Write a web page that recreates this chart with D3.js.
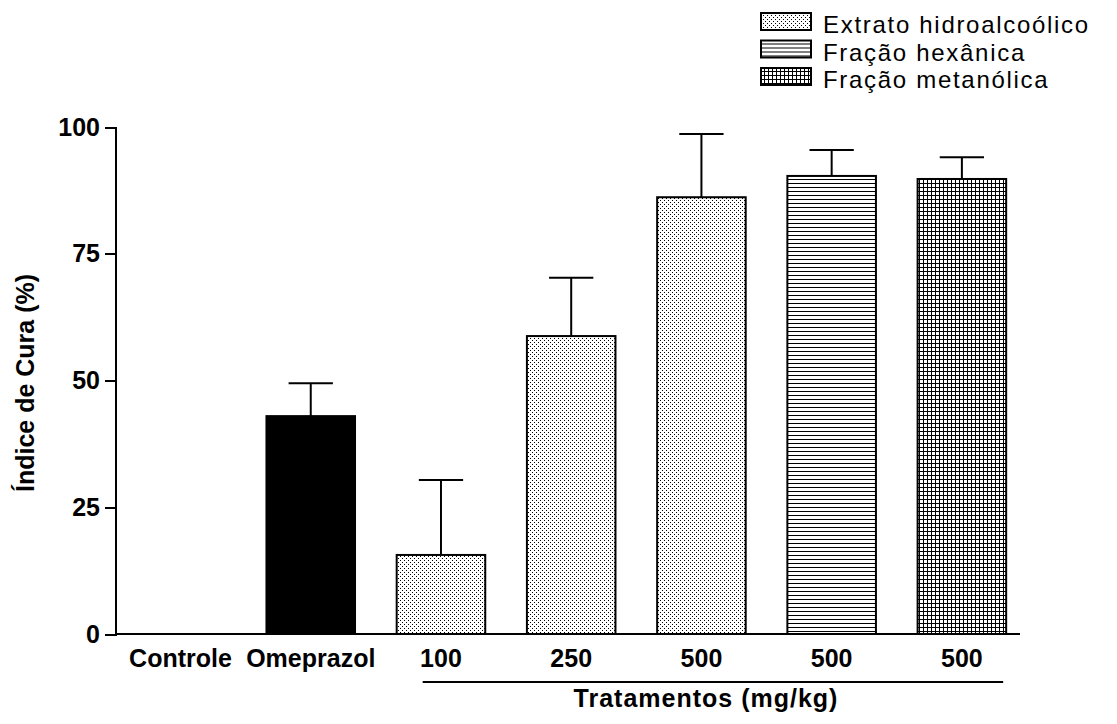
<!DOCTYPE html>
<html>
<head>
<meta charset="UTF-8">
<title></title>
<style>
  body { margin: 0; background: #fff; }
  svg text { font-family: "Liberation Sans", Arial, sans-serif; fill: #000; }
  .axis path, .axis line { fill: none; stroke: #000; stroke-width: 2px; shape-rendering: crispEdges; }
  .axis text { font-size: 25px; font-weight: bold; }
</style>
</head>
<body>
<script src="https://cdn.jsdelivr.net/npm/d3@7"></script>
<script>
// dados
var categorias = ["Controle", "Omeprazol", "100", "250", "500", "500b", "500c"];
var rotulos = ["Controle", "Omeprazol", "100", "250", "500", "500", "500"];
var valores = [0, 43, 15.6, 58.8, 86.2, 90.4, 89.8];
var erros = [0, 6.5, 14.8, 11.5, 12.5, 5.1, 4.3];
var grupos = ["branco", "preto", "pontos", "pontos", "pontos", "linhas", "grade"];
var legendaNomes = ["Extrato hidroalcoólico", "Fração hexânica", "Fração metanólica"];
var legendaGrupos = ["pontos", "linhas", "grade"];
var yTicks = [0, 25, 50, 75, 100];

var dados = categorias.map(function(c, i) {
  return { cat: c, valor: valores[i], erro: erros[i], grupo: grupos[i] };
});

var W = 1117, H = 724;
var svg = d3.select("body").append("svg").attr("width", W).attr("height", H);

// padrões de preenchimento
var defs = svg.append("defs");
var pDots = defs.append("pattern").attr("id", "pontos").attr("patternUnits", "userSpaceOnUse")
  .attr("width", 4).attr("height", 4);
pDots.append("rect").attr("width", 4).attr("height", 4).attr("fill", "#fff");
pDots.append("rect").attr("x", 0).attr("y", 0).attr("width", 1).attr("height", 1).attr("fill", "#000");
pDots.append("rect").attr("x", 2).attr("y", 2).attr("width", 1).attr("height", 1).attr("fill", "#000");

var pLines = defs.append("pattern").attr("id", "linhas").attr("patternUnits", "userSpaceOnUse")
  .attr("width", 4).attr("height", 4);
pLines.append("rect").attr("width", 4).attr("height", 4).attr("fill", "#fff");
pLines.append("rect").attr("x", 0).attr("y", 3).attr("width", 4).attr("height", 1).attr("fill", "#000");

var pGrid = defs.append("pattern").attr("id", "grade").attr("patternUnits", "userSpaceOnUse")
  .attr("width", 4).attr("height", 4);
pGrid.append("rect").attr("width", 4).attr("height", 4).attr("fill", "#fff");
pGrid.append("rect").attr("x", 0).attr("y", 3).attr("width", 4).attr("height", 1).attr("fill", "#000");
pGrid.append("rect").attr("x", 3).attr("y", 0).attr("width", 1).attr("height", 4).attr("fill", "#000");

function preench(g) {
  if (g === "preto") return "#000";
  if (g === "branco") return "#fff";
  return "url(#" + g + ")";
}

var x = d3.scaleBand().domain(categorias).range([115.4, 1027]).paddingInner(0.32).paddingOuter(0.16);
var y = d3.scaleLinear().domain([0, 100]).range([634, 127.3]);

// barras
svg.selectAll("rect.barra")
  .data(dados)
  .enter()
  .append("rect")
  .attr("class", "barra")
  .attr("x", function(d) { return x(d.cat); })
  .attr("y", function(d) { return y(d.valor); })
  .attr("width", x.bandwidth())
  .attr("height", function(d) { return y(0) - y(d.valor); })
  .attr("fill", function(d) { return preench(d.grupo); })
  .attr("stroke", "#000")
  .attr("stroke-width", 2);

// barras de erro
var eb = svg.selectAll("g.erro")
  .data(dados.filter(function(d) { return d.erro > 0; }))
  .enter()
  .append("g").attr("class", "erro");
eb.append("line")
  .attr("x1", function(d) { return x(d.cat) + x.bandwidth() / 2; })
  .attr("x2", function(d) { return x(d.cat) + x.bandwidth() / 2; })
  .attr("y1", function(d) { return y(d.valor); })
  .attr("y2", function(d) { return y(d.valor + d.erro); })
  .attr("stroke", "#000").attr("stroke-width", 2);
eb.append("line")
  .attr("x1", function(d) { return x(d.cat) + x.bandwidth() / 4; })
  .attr("x2", function(d) { return x(d.cat) + x.bandwidth() * 3 / 4; })
  .attr("y1", function(d) { return y(d.valor + d.erro); })
  .attr("y2", function(d) { return y(d.valor + d.erro); })
  .attr("stroke", "#000").attr("stroke-width", 2);

// eixos
var yAxis = d3.axisLeft(y).tickValues(yTicks).tickSizeOuter(0).tickSize(10).tickPadding(5);
svg.append("g").attr("class", "axis").attr("transform", "translate(115,0)").call(yAxis);

var xAxis = d3.axisBottom(x).tickSize(0).tickPadding(15)
  .tickFormat(function(d, i) { return rotulos[i]; });
var gx = svg.append("g").attr("class", "axis").attr("transform", "translate(0,634)").call(xAxis);
gx.select(".domain").attr("d", "M115,0H1020");

// linha dos tratamentos
svg.append("line")
  .attr("x1", x("100") + 26).attr("x2", x("500c") + x.bandwidth() - 3)
  .attr("y1", 682).attr("y2", 682)
  .attr("stroke", "#000").attr("stroke-width", 2);

svg.append("text")
  .attr("x", 706).attr("y", 707)
  .attr("text-anchor", "middle")
  .style("font-size", "25px").style("font-weight", "bold").style("letter-spacing", "1px")
  .text("Tratamentos (mg/kg)");

svg.append("text")
  .attr("transform", "translate(34,383) rotate(-90)")
  .attr("text-anchor", "middle")
  .style("font-size", "25px").style("font-weight", "bold")
  .text("Índice de Cura (%)");

// legenda
var leg = svg.selectAll("g.legenda")
  .data(legendaNomes)
  .enter()
  .append("g").attr("class", "legenda")
  .attr("transform", function(d, i) { return "translate(761," + (33 + i * 27.5) + ")"; });
leg.append("rect")
  .attr("y", -20)
  .attr("width", 50).attr("height", 17)
  .attr("fill", function(d, i) { return preench(legendaGrupos[i]); })
  .attr("stroke", "#000").attr("stroke-width", 2);
leg.append("text")
  .attr("x", 62).attr("y", 0)
  .style("font-size", "24px").style("letter-spacing", "1.7px")
  .text(function(d) { return d; });
</script>
</body>
</html>
